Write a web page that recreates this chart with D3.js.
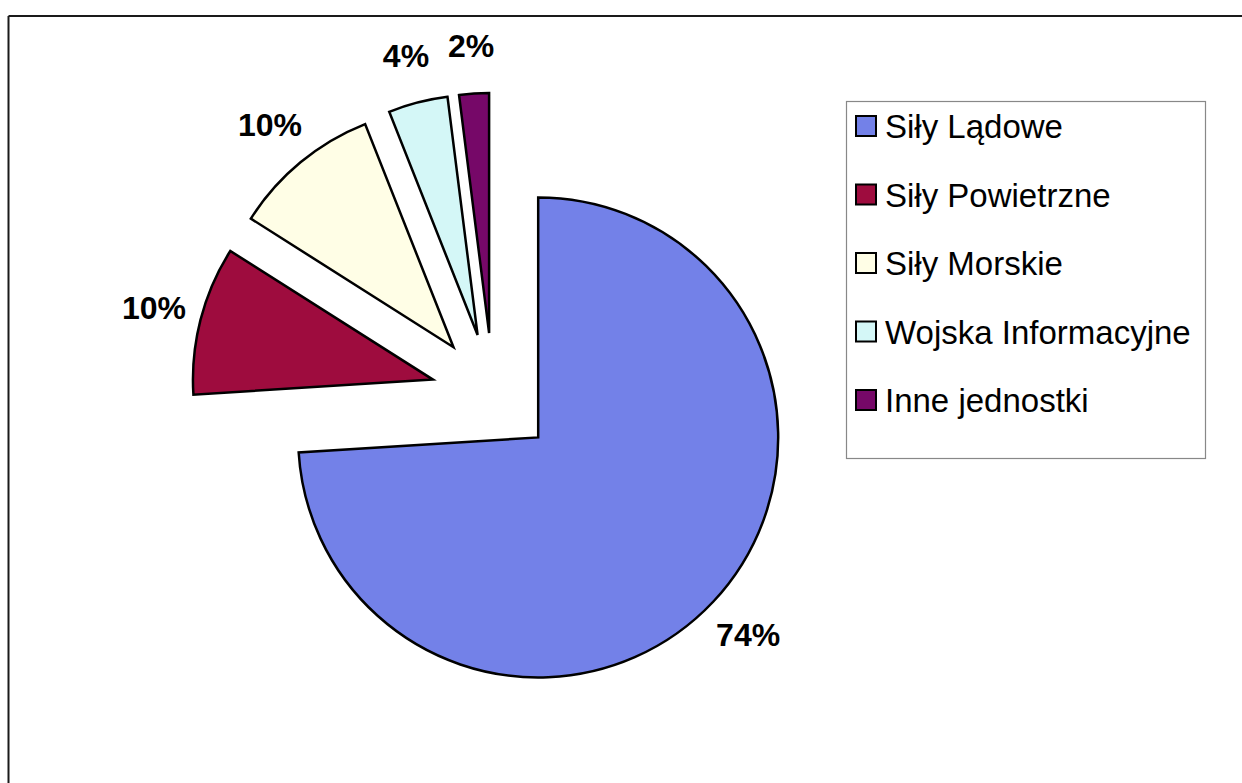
<!DOCTYPE html>
<html>
<head>
<meta charset="utf-8">
<script src="https://cdn.jsdelivr.net/npm/d3@7"></script>
<style>
  html, body { margin: 0; padding: 0; background: #ffffff; }
  svg { display: block; }
</style>
</head>
<body>
<svg id="chart" width="1242" height="783"></svg>
<script>
// ---- data ----
const categories = ["Siły Lądowe", "Siły Powietrzne", "Siły Morskie", "Wojska Informacyjne", "Inne jednostki"];
const values = [74, 10, 10, 4, 2];
const colors = ["#7381E8", "#9E0C3E", "#FFFEE6", "#D4F7F7", "#760868"];

// ---- layout ----
const W = 1242, H = 783;
const cx = 493, cy = 395;
const radius = 240;
const explode = 62;
const labelRadius = 350;

const svg = d3.select("#chart");

// frame (top and left edges visible)
svg.append("line").attr("x1", 8.5).attr("y1", 16).attr("x2", W).attr("y2", 16)
  .attr("stroke", "#1a1a1a").attr("stroke-width", 2);
svg.append("line").attr("x1", 8.5).attr("y1", 16).attr("x2", 8.5).attr("y2", H)
  .attr("stroke", "#1a1a1a").attr("stroke-width", 2);

const pie = d3.pie().sort(null).value(d => d.value).startAngle(0).endAngle(2 * Math.PI);
const data = categories.map((c, i) => ({ name: c, value: values[i], color: colors[i] }));
const arcs = pie(data);
const arc = d3.arc().innerRadius(0).outerRadius(radius);
const total = d3.sum(values);

const g = svg.append("g").attr("transform", `translate(${cx},${cy})`);

arcs.forEach(a => {
  const mid = (a.startAngle + a.endAngle) / 2;
  const dx = Math.sin(mid) * explode, dy = -Math.cos(mid) * explode;
  g.append("path")
    .attr("d", arc(a))
    .attr("transform", `translate(${dx},${dy})`)
    .attr("fill", a.data.color)
    .attr("stroke", "#000")
    .attr("stroke-width", 2.5)
    .attr("stroke-linejoin", "miter");
  const lx = Math.sin(mid) * labelRadius, ly = -Math.cos(mid) * labelRadius;
  g.append("text")
    .attr("x", lx).attr("y", ly)
    .attr("text-anchor", "middle")
    .attr("dominant-baseline", "central")
    .attr("font-family", "'Liberation Sans', Arial, sans-serif")
    .attr("font-weight", "bold")
    .attr("font-size", 32)
    .attr("fill", "#000")
    .text(Math.round(a.data.value / total * 100) + "%");
});

// legend
const lg = svg.append("g");
lg.append("rect").attr("x", 846.5).attr("y", 101.5).attr("width", 359).attr("height", 357)
  .attr("fill", "#fff").attr("stroke", "#888").attr("stroke-width", 1.2);
const rowY = d3.scalePoint().domain(categories).range([126, 400]);
categories.forEach((c, i) => {
  const y = rowY(c);
  lg.append("rect").attr("x", 856).attr("y", y - 10).attr("width", 20).attr("height", 20)
    .attr("fill", colors[i]).attr("stroke", "#000").attr("stroke-width", 2);
  lg.append("text").attr("x", 885).attr("y", y + 12)
    .attr("font-family", "'Liberation Sans', Arial, sans-serif")
    .attr("font-size", 33)
    .attr("fill", "#000")
    .text(c);
});
</script>
</body>
</html>
